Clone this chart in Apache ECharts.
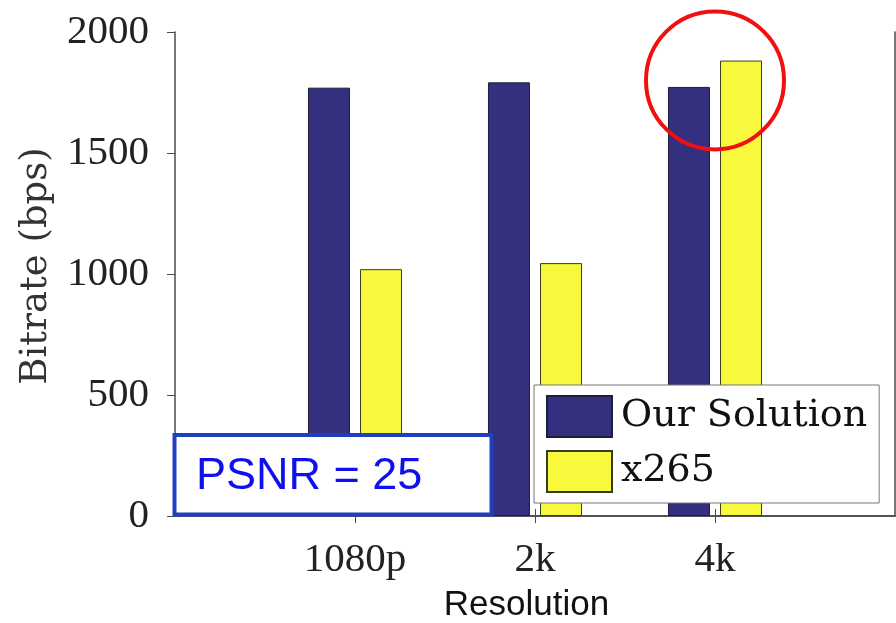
<!DOCTYPE html>
<html>
<head>
<meta charset="utf-8">
<script src="https://cdn.jsdelivr.net/npm/echarts@6/dist/echarts.min.js"></script>
<style>html,body{margin:0;padding:0;background:#fff}#c{width:896px;height:623px}</style>
</head>
<body>
<div id="c"></div>
<script>
const categories = ['1080p', '2k', '4k'];
const ourSolution = [1770, 1792, 1773];
const x265 = [1020, 1045, 1882];
const yTicks = [0, 500, 1000, 1500, 2000];
const seriesNames = ['Our Solution', 'x265'];
const noteText = 'PSNR = 25';

// pad categories so ticks sit at 1..3 on a 0..4 axis
const axisCats = [''].concat(categories, ['']);
const pad = arr => [null].concat(arr, [null]);

const chart = echarts.init(document.getElementById('c'));
const axisColor = '#4a4a4a';
const serif = '"Liberation Serif", "Times New Roman", serif';

const option = {
  animation: false,
  backgroundColor: '#fff',
  grid: { left: 175, top: 32, right: 1, bottom: 107, outerBoundsMode: 'none', containLabel: false },
  xAxis: [{
    type: 'category',
    data: axisCats,
    boundaryGap: false,
    position: 'bottom',
    axisLine: { lineStyle: { color: axisColor, width: 1.5 } },
    axisTick: { length: 7, lineStyle: { color: axisColor }, interval: (i, v) => v !== '' },
    axisLabel: { color: '#222', fontFamily: serif, fontSize: 41, margin: 24, interval: 0 },
    name: 'Resolution',
    nameLocation: 'middle',
    nameGap: 72,
    nameTextStyle: { color: '#111', fontFamily: '"Liberation Sans", Arial, sans-serif', fontSize: 35, padding: [0, 17, 0, 0] }
  }, {
    type: 'category',
    data: axisCats,
    boundaryGap: false,
    position: 'top',
    axisLine: { lineStyle: { color: axisColor, width: 1.5 } },
    axisTick: { length: 7, lineStyle: { color: axisColor }, interval: (i, v) => v !== '' },
    axisLabel: { show: false }
  }],
  yAxis: [{
    type: 'value',
    min: 0,
    max: 2000,
    interval: 500,
    axisLine: { show: true, lineStyle: { color: axisColor, width: 1.5 } },
    axisTick: { show: true, length: 8, lineStyle: { color: axisColor } },
    splitLine: { show: false },
    axisLabel: {
      color: '#222', fontFamily: serif, fontSize: 41, margin: 26,
      customValues: yTicks,
      formatter: v => String(v)
    },
    name: 'Bitrate (bps)',
    nameLocation: 'middle',
    nameGap: 120,
    nameTextStyle: { color: '#333', fontFamily: '"DejaVu Serif", serif', fontSize: 37, padding: [0, 0, 0, 16] }
  }, {
    type: 'value',
    min: 0,
    max: 2000,
    interval: 500,
    position: 'right',
    axisLine: { show: true, lineStyle: { color: axisColor, width: 1.5 } },
    axisTick: { show: false },
    splitLine: { show: false },
    axisLabel: { show: false }
  }],
  legend: {
    orient: 'vertical',
    left: 534,
    top: 385,
    padding: [10, 12, 10, 12],
    itemGap: 12,
    itemWidth: 65,
    itemHeight: 41,
    icon: 'rect',
    backgroundColor: '#fff',
    borderColor: '#777',
    borderWidth: 1,
    borderRadius: 0,
    textStyle: { color: '#111', fontFamily: '"DejaVu Serif", serif', fontSize: 38, lineHeight: 41, padding: [0, 0, 0, 4] },
    data: seriesNames
  },
  series: [{
    name: seriesNames[0],
    type: 'bar',
    data: pad(ourSolution),
    barWidth: 42,
    barGap: '24%',
    itemStyle: { color: '#352F80', borderColor: '#1e1e3a', borderWidth: 1 }
  }, {
    name: seriesNames[1],
    type: 'bar',
    data: pad(x265),
    barWidth: 42,
    itemStyle: { color: '#F8F83C', borderColor: '#3a3a20', borderWidth: 1 }
  }]
};
chart.setOption(option);

// annotations anchored to the data coordinate system
const c = chart.convertToPixel({ xAxisIndex: 0, yAxisIndex: 0 }, ['4k', 1800]);
const boxTL = chart.convertToPixel({ xAxisIndex: 0, yAxisIndex: 0 }, [0, 335]);
const boxBR = chart.convertToPixel({ xAxisIndex: 0, yAxisIndex: 0 }, [0, 0]);
chart.setOption({
  graphic: [{
    type: 'circle',
    shape: { cx: c[0], cy: c[1], r: 69 },
    style: { fill: 'none', stroke: '#f01010', lineWidth: 4 },
    z: 100
  }, {
    type: 'rect',
    shape: { x: 174.5, y: boxTL[1], width: 317, height: boxBR[1] - boxTL[1] - 1.5 },
    style: { fill: '#fff', stroke: '#1f3fbf', lineWidth: 4 },
    z: 100
  }, {
    type: 'text',
    x: 196,
    y: (boxTL[1] + boxBR[1]) / 2 + 1,
    style: { text: noteText, fill: '#1010ee', font: '45px "Liberation Sans", Arial, sans-serif', verticalAlign: 'middle' },
    z: 101
  }]
});
</script>
</body>
</html>
